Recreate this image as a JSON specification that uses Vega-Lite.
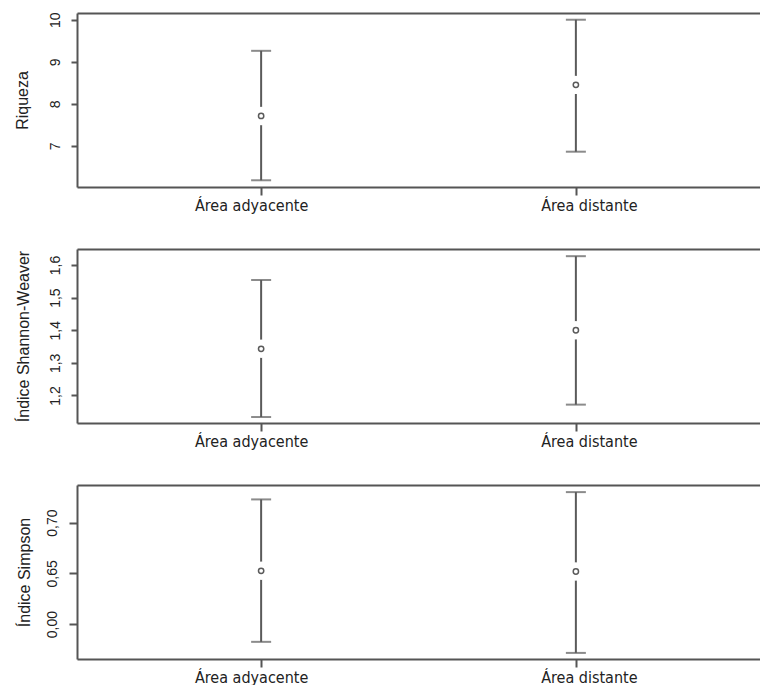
{
  "$schema": "https://vega.github.io/schema/vega-lite/v6.json",
  "padding": {"left": 13, "top": 11, "right": 0, "bottom": 0},
  "background": "white",
  "bounds": "flush",
  "spacing": 62,
  "config": {
    "view": {"stroke": null},
    "axis": {
      "domainColor": "#555555",
      "domainWidth": 2,
      "tickColor": "#555555",
      "tickWidth": 2,
      "labelColor": "#222222",
      "titleColor": "#222222",
      "grid": false
    }
  },
  "datasets": {
    "riqueza": [
      {"area": "Área adyacente", "media": 7.71, "inf": 6.18, "sup": 9.26},
      {"area": "Área distante", "media": 8.45, "inf": 6.86, "sup": 10.0}
    ],
    "shannon": [
      {"area": "Área adyacente", "media": 1.343, "inf": 1.134, "sup": 1.554},
      {"area": "Área distante", "media": 1.4, "inf": 1.172, "sup": 1.627}
    ],
    "simpson": [
      {"area": "Área adyacente", "media": 0.6525, "inf": 0.5825, "sup": 0.7228},
      {"area": "Área distante", "media": 0.6518, "inf": 0.5716, "sup": 0.730}
    ]
  },
  "vconcat": [
    {
      "width": 683, "height": 174,
      "data": {"name": "riqueza"},
      "resolve": {"axis": {"x": "independent"}},
      "layer": [
        {
          "mark": {"type": "rule", "color": "#5a5a5a", "strokeWidth": 2},
          "encoding": {
            "x": {"field": "area", "type": "nominal", "sort": null,
              "scale": {"type": "point", "padding": 0.585},
              "axis": {"orient": "bottom", "title": null, "labelAngle": 0, "tickSize": 8, "labelPadding": 2,
                "labelFont": "Liberation Sans Narrow, DejaVu Sans Condensed, sans-serif", "labelFontSize": 16,
                "labelOffset": {"condition": {"test": "datum.value == 'Área adyacente'", "value": -10}, "value": 13}}},
            "y": {"field": "inf", "type": "quantitative", "title": "Riqueza",
              "scale": {"domain": [6.02, 10.16], "nice": false, "zero": false},
              "axis": {"orient": "left", "values": [7, 8, 9, 10], "labelAngle": -90, "labelAlign": "center", "labelBaseline": "bottom",
                "tickSize": 6, "labelPadding": 9, "labelFont": "Liberation Sans, Arial, sans-serif", "labelFontSize": 14,
                "titleFont": "Liberation Sans, Arial, sans-serif", "titleFontSize": 16, "titleFontWeight": "normal", "titlePadding": 18}},
            "y2": {"field": "sup"}
          }
        },
        {
          "mark": {"type": "tick", "color": "#5a5a5a", "size": 20, "thickness": 2},
          "encoding": {
            "x": {"field": "area", "type": "nominal", "sort": null, "axis": null},
            "y": {"field": "inf", "type": "quantitative", "title": "Riqueza"}
          }
        },
        {
          "mark": {"type": "tick", "color": "#5a5a5a", "size": 20, "thickness": 2},
          "encoding": {
            "x": {"field": "area", "type": "nominal", "sort": null, "axis": null},
            "y": {"field": "sup", "type": "quantitative", "title": "Riqueza"}
          }
        },
        {
          "mark": {"type": "point", "filled": true, "color": "white", "opacity": 1, "size": 340},
          "encoding": {
            "x": {"field": "area", "type": "nominal", "sort": null, "axis": null},
            "y": {"field": "media", "type": "quantitative", "title": "Riqueza"}
          }
        },
        {
          "mark": {"type": "point", "filled": false, "color": "#5a5a5a", "strokeWidth": 1.5, "opacity": 1, "size": 28},
          "encoding": {
            "x": {"field": "area", "type": "nominal", "sort": null,
              "axis": {"orient": "top", "labels": false, "ticks": false, "title": null, "domain": true}},
            "y": {"field": "media", "type": "quantitative", "title": "Riqueza"}
          }
        }
      ]
    },
    {
      "width": 683, "height": 174,
      "data": {"name": "shannon"},
      "resolve": {"axis": {"x": "independent"}},
      "layer": [
        {
          "mark": {"type": "rule", "color": "#5a5a5a", "strokeWidth": 2},
          "encoding": {
            "x": {"field": "area", "type": "nominal", "sort": null,
              "scale": {"type": "point", "padding": 0.585},
              "axis": {"orient": "bottom", "title": null, "labelAngle": 0, "tickSize": 8, "labelPadding": 2,
                "labelFont": "Liberation Sans Narrow, DejaVu Sans Condensed, sans-serif", "labelFontSize": 16,
                "labelOffset": {"condition": {"test": "datum.value == 'Área adyacente'", "value": -10}, "value": 13}}},
            "y": {"field": "inf", "type": "quantitative", "title": "Índice Shannon-Weaver",
              "scale": {"domain": [1.1157, 1.649], "nice": false, "zero": false},
              "axis": {"orient": "left", "values": [1.2, 1.3, 1.4, 1.5, 1.6], "labelExpr": "replace(format(datum.value, '.1f'), '.', ',')",
                "labelAngle": -90, "labelAlign": "center", "labelBaseline": "bottom",
                "tickSize": 6, "labelPadding": 9, "labelFont": "Liberation Sans, Arial, sans-serif", "labelFontSize": 14,
                "titleFont": "Liberation Sans, Arial, sans-serif", "titleFontSize": 16, "titleFontWeight": "normal", "titlePadding": 17}},
            "y2": {"field": "sup"}
          }
        },
        {
          "mark": {"type": "tick", "color": "#5a5a5a", "size": 20, "thickness": 2},
          "encoding": {
            "x": {"field": "area", "type": "nominal", "sort": null, "axis": null},
            "y": {"field": "inf", "type": "quantitative", "title": "Índice Shannon-Weaver"}
          }
        },
        {
          "mark": {"type": "tick", "color": "#5a5a5a", "size": 20, "thickness": 2},
          "encoding": {
            "x": {"field": "area", "type": "nominal", "sort": null, "axis": null},
            "y": {"field": "sup", "type": "quantitative", "title": "Índice Shannon-Weaver"}
          }
        },
        {
          "mark": {"type": "point", "filled": true, "color": "white", "opacity": 1, "size": 340},
          "encoding": {
            "x": {"field": "area", "type": "nominal", "sort": null, "axis": null},
            "y": {"field": "media", "type": "quantitative", "title": "Índice Shannon-Weaver"}
          }
        },
        {
          "mark": {"type": "point", "filled": false, "color": "#5a5a5a", "strokeWidth": 1.5, "opacity": 1, "size": 28},
          "encoding": {
            "x": {"field": "area", "type": "nominal", "sort": null,
              "axis": {"orient": "top", "labels": false, "ticks": false, "title": null, "domain": true}},
            "y": {"field": "media", "type": "quantitative", "title": "Índice Shannon-Weaver"}
          }
        }
      ]
    },
    {
      "width": 683, "height": 174,
      "data": {"name": "simpson"},
      "resolve": {"axis": {"x": "independent"}},
      "layer": [
        {
          "mark": {"type": "rule", "color": "#5a5a5a", "strokeWidth": 2},
          "encoding": {
            "x": {"field": "area", "type": "nominal", "sort": null,
              "scale": {"type": "point", "padding": 0.585},
              "axis": {"orient": "bottom", "title": null, "labelAngle": 0, "tickSize": 8, "labelPadding": 2,
                "labelFont": "Liberation Sans Narrow, DejaVu Sans Condensed, sans-serif", "labelFontSize": 16,
                "labelOffset": {"condition": {"test": "datum.value == 'Área adyacente'", "value": -10}, "value": 13}}},
            "y": {"field": "inf", "type": "quantitative", "title": "Índice Simpson",
              "scale": {"domain": [0.5656, 0.737], "nice": false, "zero": false},
              "axis": {"orient": "left", "values": [0.6, 0.65, 0.7],
                "labelExpr": "datum.value < 0.62 ? '0,00' : replace(format(datum.value, '.2f'), '.', ',')",
                "labelAngle": -90, "labelAlign": "center", "labelBaseline": "bottom",
                "tickSize": 8, "labelPadding": 10, "labelFont": "Liberation Sans, Arial, sans-serif", "labelFontSize": 14,
                "titleFont": "Liberation Sans, Arial, sans-serif", "titleFontSize": 16, "titleFontWeight": "normal", "titlePadding": 13}},
            "y2": {"field": "sup"}
          }
        },
        {
          "mark": {"type": "tick", "color": "#5a5a5a", "size": 20, "thickness": 2},
          "encoding": {
            "x": {"field": "area", "type": "nominal", "sort": null, "axis": null},
            "y": {"field": "inf", "type": "quantitative", "title": "Índice Simpson"}
          }
        },
        {
          "mark": {"type": "tick", "color": "#5a5a5a", "size": 20, "thickness": 2},
          "encoding": {
            "x": {"field": "area", "type": "nominal", "sort": null, "axis": null},
            "y": {"field": "sup", "type": "quantitative", "title": "Índice Simpson"}
          }
        },
        {
          "mark": {"type": "point", "filled": true, "color": "white", "opacity": 1, "size": 340},
          "encoding": {
            "x": {"field": "area", "type": "nominal", "sort": null, "axis": null},
            "y": {"field": "media", "type": "quantitative", "title": "Índice Simpson"}
          }
        },
        {
          "mark": {"type": "point", "filled": false, "color": "#5a5a5a", "strokeWidth": 1.5, "opacity": 1, "size": 28},
          "encoding": {
            "x": {"field": "area", "type": "nominal", "sort": null,
              "axis": {"orient": "top", "labels": false, "ticks": false, "title": null, "domain": true}},
            "y": {"field": "media", "type": "quantitative", "title": "Índice Simpson"}
          }
        }
      ]
    }
  ]
}
